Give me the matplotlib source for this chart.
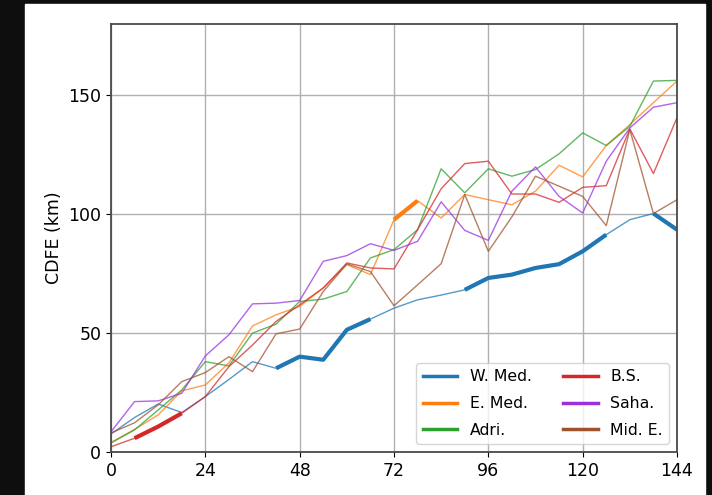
import numpy as np
import matplotlib.pyplot as plt
from matplotlib.lines import Line2D
from matplotlib.patches import Rectangle

hours = np.arange(0, 145, 6)

w_med = [7.6, 14.5, 20.2, 16.6, 23.3, 30.5, 38.0, 35.2, 40.1, 38.8, 51.4, 55.9, 60.5,
         64.0, 66.0, 68.2, 73.2, 74.6, 77.4, 79.0, 84.4, 91.4, 97.7, 100.3, 93.5]
e_med = [4.0, 9.5, 15.6, 25.7, 28.2, 37.5, 53.0, 57.7, 61.2, 69.0, 78.8, 74.6, 97.7,
         105.7, 98.4, 108.3, 106.1, 104.0, 109.7, 120.6, 115.7, 128.9, 137.7, 146.9, 156.0]
adri = [3.8, 9.3, 17.7, 26.1, 38.0, 36.2, 50.0, 53.8, 63.3, 64.3, 67.5, 81.6, 85.1,
        93.5, 119.1, 109.0, 119.1, 116.0, 118.8, 125.4, 134.2, 128.9, 137.0, 156.0, 156.3]
bs = [2.2, 5.8, 10.7, 16.3, 23.3, 35.9, 45.0, 54.9, 61.9, 69.0, 79.5, 77.4, 77.0,
      93.5, 110.7, 121.3, 122.3, 108.5, 108.5, 105.0, 111.3, 112.0, 135.9, 117.1, 140.6]
saha = [8.5, 21.2, 21.5, 24.7, 40.4, 49.3, 62.3, 62.6, 63.7, 80.2, 82.6, 87.6, 84.8,
        88.6, 105.2, 93.2, 89.0, 109.7, 119.9, 107.5, 100.5, 122.3, 136.3, 145.0, 146.9]
mid_e = [8.0, 12.3, 19.8, 29.6, 33.4, 40.1, 33.8, 49.7, 51.7, 67.5, 79.1, 75.9, 61.5,
         70.3, 79.2, 108.3, 84.4, 98.9, 116.0, 111.8, 107.5, 95.2, 135.6, 100.3, 106.1]

names = ['W. Med.', 'E. Med.', 'Adri.', 'B.S.', 'Saha.', 'Mid. E.']
series = [w_med, e_med, adri, bs, saha, mid_e]
colors = ['#1f77b4', '#ff7f0e', '#2ca02c', '#d62728', '#9b30e0', '#a0522d']

# highlighted (bold) stretches, in hours
bold = {
    'W. Med.': [(42, 66), (90, 126), (138, 144)],
    'E. Med.': [(72, 78)],
    'B.S.': [(6, 18)],
}

fig = plt.figure(figsize=(7.12, 4.95), dpi=100, facecolor='#0f0e0e')
fig.patches.append(Rectangle((25 / 712, 0), 680 / 712, 491 / 495,
                             transform=fig.transFigure, color='white', zorder=-10))
ax = fig.add_axes([111 / 712, 43 / 495, 566 / 712, 428 / 495])

for name, vals, c in zip(names, series, colors):
    vals = np.array(vals)
    ax.plot(hours, vals, color=c, lw=1.0, alpha=0.75)
    for a, b in bold.get(name, []):
        m = (hours >= a) & (hours <= b)
        ax.plot(hours[m], vals[m], color=c, lw=3.0, solid_capstyle='butt')

ax.set_xlim(0, 144)
ax.set_ylim(0, 180)
ax.set_xticks(np.arange(0, 145, 24))
ax.set_yticks([0, 50, 100, 150])
ax.tick_params(labelsize=12.5)
ax.set_ylabel('CDFE (km)', fontsize=12.5)
ax.grid(True, color='#b0b0b0', lw=1.0)
for s in ax.spines.values():
    s.set_color('#4a4a4a')
    s.set_linewidth(1.3)

handles = [Line2D([], [], color=c, lw=2.5) for c in colors]
ax.legend(handles, names, ncol=2, loc='lower right', fontsize=11.3,
          columnspacing=2.0, handlelength=2.2, labelspacing=0.75)

fig.savefig('out.png', dpi=100, facecolor=fig.get_facecolor())
